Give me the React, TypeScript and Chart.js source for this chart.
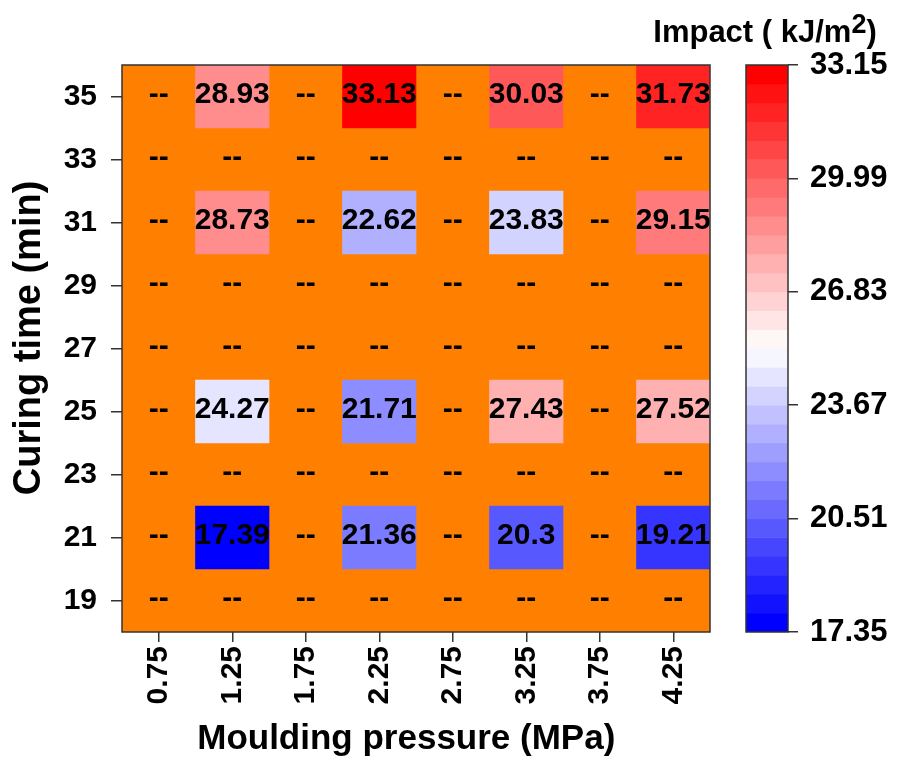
import React, { useEffect, useRef } from 'react';
import { Chart, registerables } from 'chart.js';

Chart.register(...registerables);

// ---------- data ----------
const pressures = ['0.75', '1.25', '1.75', '2.25', '2.75', '3.25', '3.75', '4.25'];
const curingTimes = [19, 21, 23, 25, 27, 29, 31, 33, 35];

const impact19: (number | null)[] = [null, null, null, null, null, null, null, null];
const impact21: (number | null)[] = [null, 17.39, null, 21.36, null, 20.3, null, 19.21];
const impact23: (number | null)[] = [null, null, null, null, null, null, null, null];
const impact25: (number | null)[] = [null, 24.27, null, 21.71, null, 27.43, null, 27.52];
const impact27: (number | null)[] = [null, null, null, null, null, null, null, null];
const impact29: (number | null)[] = [null, null, null, null, null, null, null, null];
const impact31: (number | null)[] = [null, 28.73, null, 22.62, null, 23.83, null, 29.15];
const impact33: (number | null)[] = [null, null, null, null, null, null, null, null];
const impact35: (number | null)[] = [null, 28.93, null, 33.13, null, 30.03, null, 31.73];

const impactRows = [impact19, impact21, impact23, impact25, impact27, impact29, impact31, impact33, impact35];

const colorbarTicks = [17.35, 20.51, 23.67, 26.83, 29.99, 33.15];
const colorMin = 17.35;
const colorMax = 33.15;
const colorSteps = 30;

// ---------- styling ----------
const FAMILY = "'Liberation Sans', Arial, Helvetica, sans-serif";
const ORANGE = '#FF8000';
const AXIS_COLOR = '#333333';

function bandColor(k: number): string {
  const t = k / (colorSteps - 1);
  if (t < 0.5) {
    const c = Math.round(255 * (t / 0.5));
    return `rgb(${c},${c},255)`;
  }
  const c = Math.round(255 * ((1 - t) / 0.5));
  return `rgb(255,${c},${c})`;
}

function valueColor(v: number): string {
  let k = Math.floor(((v - colorMin) / (colorMax - colorMin)) * colorSteps);
  if (k < 0) k = 0;
  if (k > colorSteps - 1) k = colorSteps - 1;
  return bandColor(k);
}

const bands = Array.from({ length: colorSteps }, (_, k) => ({
  lo: colorMin + ((colorMax - colorMin) * k) / colorSteps,
  hi: colorMin + ((colorMax - colorMin) * (k + 1)) / colorSteps,
  color: bandColor(k),
}));

// ---------- plugins ----------
const heatmapPlugin = {
  id: 'heatmapDecor',
  beforeDatasetsDraw(chart: any) {
    const { ctx, chartArea } = chart;
    ctx.save();
    ctx.fillStyle = ORANGE;
    ctx.fillRect(chartArea.left, chartArea.top, chartArea.right - chartArea.left, chartArea.bottom - chartArea.top);
    ctx.restore();
  },
  afterDatasetsDraw(chart: any) {
    const { ctx, chartArea, scales } = chart;
    const xs = scales.x;
    const ys = scales.y;
    ctx.save();
    ctx.fillStyle = '#000';
    ctx.textAlign = 'center';
    ctx.textBaseline = 'middle';
    ctx.font = `bold 30px ${FAMILY}`;
    curingTimes.forEach((t, r) => {
      pressures.forEach((_, i) => {
        const v = impactRows[r][i];
        const px = xs.getPixelForValue(i);
        const py = ys.getPixelForValue(t);
        ctx.fillText(v == null ? '--' : String(v), px, py - 2);
      });
    });
    ctx.strokeStyle = AXIS_COLOR;
    ctx.lineWidth = 1.5;
    ctx.strokeRect(chartArea.left, chartArea.top, chartArea.right - chartArea.left, chartArea.bottom - chartArea.top);
    ctx.restore();
  },
};

const colorbarPlugin = {
  id: 'colorbarDecor',
  afterDatasetsDraw(chart: any) {
    const { ctx, chartArea } = chart;
    ctx.save();
    ctx.strokeStyle = AXIS_COLOR;
    ctx.lineWidth = 1.5;
    ctx.strokeRect(chartArea.left, chartArea.top, chartArea.right - chartArea.left, chartArea.bottom - chartArea.top);
    // title with superscript
    const cx = (chartArea.left + chartArea.right) / 2 - 2;
    const base = 42;
    const main = 'Impact ( kJ/m';
    const sup = '2';
    const close = ')';
    ctx.fillStyle = '#000';
    ctx.textBaseline = 'alphabetic';
    ctx.font = `bold 31px ${FAMILY}`;
    const wMain = ctx.measureText(main).width;
    const wClose = ctx.measureText(close).width;
    ctx.font = `bold 27px ${FAMILY}`;
    const wSup = ctx.measureText(sup).width;
    const total = wMain + wSup + wClose;
    let x = cx - total / 2;
    ctx.textAlign = 'left';
    ctx.font = `bold 31px ${FAMILY}`;
    ctx.fillText(main, x, base);
    x += wMain;
    ctx.font = `bold 27px ${FAMILY}`;
    ctx.fillText(sup, x, base - 9);
    x += wSup;
    ctx.font = `bold 31px ${FAMILY}`;
    ctx.fillText(close, x, base);
    ctx.restore();
  },
};

export default function App() {
  const mainRef = useRef<HTMLCanvasElement | null>(null);
  const barRef = useRef<HTMLCanvasElement | null>(null);

  useEffect(() => {
    if (!mainRef.current || !barRef.current) return;

    const tickFont = { family: FAMILY, size: 30, weight: 'bold' as const };

    const main = new Chart(mainRef.current, {
      type: 'bar',
      data: {
        labels: pressures,
        datasets: curingTimes.map((t, r) => ({
          label: String(t),
          data: impactRows[r].map((v) => (v == null ? null : [t - 1, t + 1])) as any,
          backgroundColor: impactRows[r].map((v) => (v == null ? 'rgba(0,0,0,0)' : valueColor(v))),
          borderWidth: 0,
          grouped: false,
          categoryPercentage: 1,
          barPercentage: 1,
        })),
      },
      options: {
        animation: false,
        responsive: false,
        maintainAspectRatio: false,
        layout: { padding: { top: 65, right: 30, bottom: 0, left: 0 } },
        plugins: { legend: { display: false }, tooltip: { enabled: false }, title: { display: false } },
        scales: {
          x: {
            type: 'category',
            offset: true,
            grid: { offset: false, drawOnChartArea: false, tickLength: 10, color: AXIS_COLOR, lineWidth: 1.5 },
            border: { display: false },
            ticks: { font: tickFont, color: '#000', minRotation: 90, maxRotation: 90, padding: 4, autoSkip: false },
            title: {
              display: true,
              text: 'Moulding pressure (MPa)  ',
              font: { family: FAMILY, size: 35, weight: 'bold' },
              color: '#000',
              padding: { top: 0, bottom: 3 },
            },
            afterFit: (s: any) => {
              s.height = 131;
            },
          },
          y: {
            type: 'linear',
            min: 18,
            max: 36,
            afterBuildTicks: (s: any) => {
              s.ticks = curingTimes.map((v) => ({ value: v }));
            },
            grid: { drawOnChartArea: false, tickLength: 11, color: AXIS_COLOR, lineWidth: 1.5 },
            border: { display: false },
            ticks: { font: tickFont, color: '#000', padding: 14 },
            title: {
              display: true,
              text: '  Curing time (min)',
              font: { family: FAMILY, size: 38, weight: 'bold' },
              color: '#000',
              padding: { top: 7, bottom: 0 },
            },
            afterFit: (s: any) => {
              s.width = 122;
            },
          },
        },
      },
      plugins: [heatmapPlugin],
    });

    const bar = new Chart(barRef.current, {
      type: 'bar',
      data: {
        labels: ['bar'],
        datasets: [
          {
            data: bands.map((b) => ({ x: 'bar', y: [b.lo, b.hi] })) as any,
            backgroundColor: bands.map((b) => b.color),
            borderWidth: 0,
            categoryPercentage: 1,
            barPercentage: 1,
          },
        ],
      },
      options: {
        animation: false,
        responsive: false,
        maintainAspectRatio: false,
        layout: { padding: { top: 65, right: 0, bottom: 131, left: 106 } },
        plugins: { legend: { display: false }, tooltip: { enabled: false }, title: { display: false } },
        scales: {
          x: { type: 'category', display: false },
          y: {
            type: 'linear',
            position: 'right',
            min: colorMin,
            max: colorMax,
            afterBuildTicks: (s: any) => {
              s.ticks = colorbarTicks.map((v) => ({ value: v }));
            },
            grid: { drawOnChartArea: false, tickLength: 10, color: AXIS_COLOR, lineWidth: 1.5 },
            border: { display: false },
            ticks: {
              font: { family: FAMILY, size: 31, weight: 'bold' },
              color: '#000',
              padding: 12,
              callback: (v: any) => Number(v).toFixed(2),
            },
            afterFit: (s: any) => {
              s.width = 112;
            },
          },
        },
      },
      plugins: [colorbarPlugin],
    });

    return () => {
      main.destroy();
      bar.destroy();
    };
  }, []);

  return (
    <div style={{ position: 'absolute', left: 0, top: 0, width: 900, height: 763, background: '#fff', overflow: 'hidden' }}>
      <canvas ref={mainRef} width={740} height={763} style={{ position: 'absolute', left: 0, top: 0 }} />
      <canvas ref={barRef} width={260} height={763} style={{ position: 'absolute', left: 640, top: 0 }} />
    </div>
  );
}
